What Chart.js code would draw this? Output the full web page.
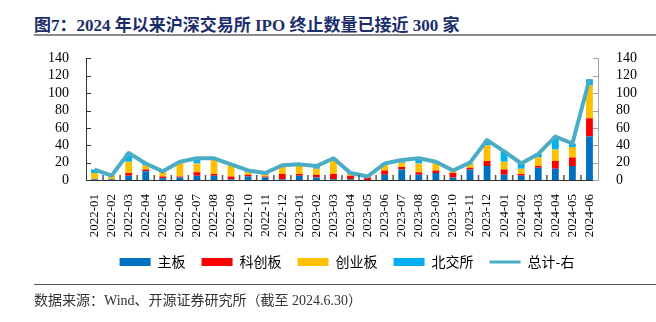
<!DOCTYPE html>
<html>
<head>
<meta charset="utf-8">
<script src="https://cdn.jsdelivr.net/npm/chart.js@4.4.1/dist/chart.umd.min.js"></script>
<style>
  html, body { margin: 0; padding: 0; background: #fff; }
  body { width: 656px; height: 322px; position: relative; overflow: hidden; }
  #title {
    position: absolute; left: 34px; top: 11px;
    font-family: "Liberation Serif", "Noto Sans CJK SC", serif;
    font-weight: bold; font-size: 17px; color: #1b2d6b; white-space: nowrap;
  }
  #topLine { position: absolute; left: 34px; top: 34px; width: 622px; height: 2px; background: #8c8c8c; }
  #chartBox { position: absolute; left: 0; top: 40px; width: 656px; height: 250px; }
  #bottomLine { position: absolute; left: 34px; top: 284px; width: 622px; height: 1px; background: #555; }
  #source {
    position: absolute; left: 34px; top: 289px;
    font-family: "Liberation Serif", "Noto Sans CJK SC", serif;
    font-size: 14px; color: #333; white-space: nowrap;
  }
</style>
</head>
<body>
<div id="title">图7：2024 年以来沪深交易所 IPO 终止数量已接近 300 家</div>
<div id="topLine"></div>
<div id="chartBox"><canvas id="chartCanvas"></canvas></div>
<div id="bottomLine"></div>
<div id="source">数据来源：Wind、开源证券研究所（截至 2024.6.30）</div>

<script>
// 月份
const months = [
    '2022-01', '2022-02', '2022-03', '2022-04', '2022-05', '2022-06',
    '2022-07', '2022-08', '2022-09', '2022-10', '2022-11', '2022-12',
    '2023-01', '2023-02', '2023-03', '2023-04', '2023-05', '2023-06',
    '2023-07', '2023-08', '2023-09', '2023-10', '2023-11', '2023-12',
    '2024-01', '2024-02', '2024-03', '2024-04', '2024-05', '2024-06'
];

// 各板块终止数量（左轴）
const mainBoard = [1, 1, 5, 10, 2, 3, 5, 5, 1, 4, 3, 1, 5, 3, 1, 1, 0, 6, 12, 6, 8, 3, 12, 16, 6, 5, 14, 13, 16, 50];
const starMarket = [0, 0, 3, 2, 2, 1, 4, 2, 3, 2, 1, 6, 2, 3, 6, 4, 3, 5, 3, 3, 3, 5, 2, 6, 6, 2, 2, 9, 10, 21];
const chinext = [7, 4, 13, 5, 5, 16, 10, 17, 13, 3, 2, 8, 9, 7, 16, 2, 1, 6, 5, 10, 8, 2, 5, 18, 9, 6, 10, 13, 12, 38];
const bse = [4, 0, 10, 2, 1, 1, 6, 1, 1, 2, 2, 2, 2, 3, 2, 1, 0, 2, 3, 6, 2, 1, 1, 6, 12, 6, 4, 15, 4, 7];

// 总计（右轴）
const total = [12, 5, 31, 19, 10, 21, 25, 25, 18, 11, 8, 17, 18, 16, 25, 8, 4, 19, 23, 25, 21, 11, 20, 46, 33, 19, 30, 50, 42, 116];

// 轴刻度
const axisMin = 0;
const axisMax = 140;
const axisStep = 20;

const serifFont = '"Liberation Serif", "Times New Roman", serif';
const cjkFont = '"Noto Sans CJK SC", "Liberation Serif", sans-serif';

// 内向刻度线
const innerTicks = {
    id: 'innerTicks',
    afterDraw(chart) {
        const ctx = chart.ctx;
        const area = chart.chartArea;
        const x = chart.scales.x;
        const y = chart.scales.y;
        ctx.save();
        ctx.lineWidth = 1;
        // 左轴
        ctx.strokeStyle = '#333';
        for (let v = axisMin; v <= axisMax; v += axisStep) {
            const py = Math.round(y.getPixelForValue(v)) + 0.5;
            ctx.beginPath();
            ctx.moveTo(area.left, py);
            ctx.lineTo(area.left + 5, py);
            ctx.stroke();
        }
        // 右轴
        ctx.strokeStyle = '#a6a6a6';
        for (let v = axisMin; v <= axisMax; v += axisStep) {
            const py = Math.round(y.getPixelForValue(v)) + 0.5;
            ctx.beginPath();
            ctx.moveTo(area.right - 5, py);
            ctx.lineTo(area.right, py);
            ctx.stroke();
        }
        // X轴
        ctx.strokeStyle = '#555';
        ctx.lineWidth = 1.5;
        for (let i = 1; i < months.length; i++) {
            const px = (x.getPixelForValue(i - 1) + x.getPixelForValue(i)) / 2;
            ctx.beginPath();
            ctx.moveTo(px, area.bottom);
            ctx.lineTo(px, area.bottom - 5);
            ctx.stroke();
        }
        ctx.restore();
    }
};

const ctx = document.getElementById('chartCanvas').getContext('2d');
new Chart(ctx, {
    type: 'bar',
    data: {
        labels: months,
        datasets: [
            { label: '主板', data: mainBoard, backgroundColor: '#0070c0', yAxisID: 'y', order: 1, pointStyle: 'rect' },
            { label: '科创板', data: starMarket, backgroundColor: '#ff0000', yAxisID: 'y', order: 1, pointStyle: 'rect' },
            { label: '创业板', data: chinext, backgroundColor: '#ffc000', yAxisID: 'y', order: 1, pointStyle: 'rect' },
            { label: '北交所', data: bse, backgroundColor: '#00b0f0', yAxisID: 'y', order: 1, pointStyle: 'rect' },
            {
                type: 'line', label: '总计-右', data: total, yAxisID: 'y2', order: 0,
                borderColor: '#4bacc6', backgroundColor: '#4bacc6', borderWidth: 4,
                pointRadius: 0, pointStyle: 'line', tension: 0, borderJoinStyle: 'round'
            }
        ]
    },
    options: {
        responsive: true,
        maintainAspectRatio: false,
        animation: false,
        datasets: {
            bar: { categoryPercentage: 1, barPercentage: 0.4 }
        },
        layout: { padding: { left: 38, right: 0, top: 15, bottom: 11 } },
        plugins: {
            tooltip: { enabled: false },
            legend: {
                position: 'bottom',
                labels: {
                    usePointStyle: true,
                    pointStyleWidth: 31,
                    boxHeight: 8,
                    padding: 16,
                    color: '#000',
                    font: { family: cjkFont, size: 14 },
                    sort: (a, b) => a.datasetIndex - b.datasetIndex,
                    generateLabels(chart) {
                        const items = Chart.defaults.plugins.legend.labels.generateLabels(chart);
                        items.forEach(item => {
                            if (item.pointStyle === 'line') {
                                item.lineWidth = 3;
                                item.strokeStyle = '#4bacc6';
                            } else {
                                item.lineWidth = 0;
                            }
                        });
                        return items;
                    }
                }
            }
        },
        scales: {
            x: {
                stacked: true,
                grid: { display: false },
                border: { display: true, color: '#333', width: 1 },
                ticks: {
                    minRotation: 90, maxRotation: 90, autoSkip: false, padding: 6,
                    color: '#000', font: { family: serifFont, size: 13 }
                },
                afterFit(scale) { scale.height = 59; }
            },
            y: {
                stacked: true,
                position: 'left',
                min: axisMin, max: axisMax,
                grid: { display: false },
                border: { display: true, color: '#333', width: 1 },
                ticks: { stepSize: axisStep, autoSkip: false, padding: 9, color: '#000', font: { family: serifFont, size: 14 } },
                afterFit(scale) { scale.width = 48; }
            },
            y2: {
                position: 'right',
                min: axisMin, max: axisMax,
                grid: { display: false },
                border: { display: true, color: '#a6a6a6', width: 1 },
                ticks: { stepSize: axisStep, autoSkip: false, padding: 10, color: '#000', font: { family: serifFont, size: 14 } },
                afterFit(scale) { scale.width = 58; }
            }
        }
    },
    plugins: [innerTicks]
});
</script>
</body>
</html>
